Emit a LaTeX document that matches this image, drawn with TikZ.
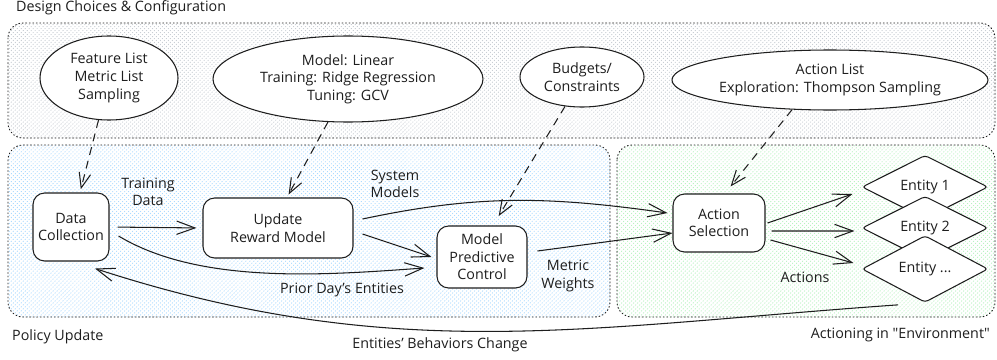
\documentclass[tikz,border=0pt]{standalone}
\usepackage{fontspec}
\setmainfont{Open Sans}
\usetikzlibrary{arrows.meta,shapes.geometric,patterns.meta}

\definecolor{ink}{HTML}{1E1E1E}
\definecolor{hatchgray}{HTML}{C4CAD0}
\definecolor{hatchblue}{HTML}{A5D8FF}
\definecolor{hatchgreen}{HTML}{B2F2BB}

\begin{document}
\begin{tikzpicture}[x=0.3mm,y=-0.3mm,font=\fontsize{12.2}{15}\selectfont,text=ink]
            \tikzset{line/.style={line width=0.9pt, draw=ink}};
            \tikzset{group/.style={rounded corners=4.5mm, draw=ink, line width=0.8pt, dash pattern=on 0.8pt off 2.2pt, line cap=round}};
            \tikzset{hatch/.style={pattern={Lines[angle=45,distance=2.4pt,line width=0.6pt]}, pattern color=#1}};
            \tikzset{proc/.style={line, rounded corners=3.5mm, fill=white, align=center, inner sep=2pt}};
            \tikzset{idea/.style={line, ellipse, fill=white, align=center, inner sep=0pt}};
            \tikzset{ent/.style={line, diamond, fill=white, minimum width=37.8mm, minimum height=18.6mm, inner sep=0pt, rounded corners=1mm}};
            \tikzset{arr/.style={line, -{Straight Barb[length=5.5mm,width=4mm,line width=0.9pt]}}};
            \tikzset{cfgarrow/.style={line, dash pattern=on 2.4mm off 1.8mm, -{Straight Barb[length=4.5mm,width=3.5mm,line width=0.9pt]}}};
            \tikzset{lbl/.style={align=center, inner sep=0pt}};

            \fill[white] (0,0) rectangle (997,360);
            \useasboundingbox (0,0) rectangle (997,360);

            \draw[group, hatch=hatchgray] (8,23) rectangle (995,138);
            \draw[group, hatch=hatchblue] (8,145) rectangle (610,317);
            \draw[group, hatch=hatchgreen] (617,145) rectangle (995,317);

            \node[lbl, anchor=west] (design) at (16,8) {Design Choices \& Configuration};
            \node[lbl, anchor=west] (policy) at (12,337) {Policy Update};
            \node[lbl, anchor=east] (envir) at (990,335) {Actioning in \textquotedbl Environment\textquotedbl};
            \node[lbl] (behave) at (440,345) {Entities' Behaviors Change};

            \node[idea, minimum width=41.4mm, minimum height=25.2mm] (feat) at (109,78) {Feature List\\Metric List\\Sampling};
            \node[idea, minimum width=81mm, minimum height=25.8mm] (model) at (348,79) {Model: Linear\\Training: Ridge Regression\\Tuning: GCV};
            \node[idea, minimum width=37.2mm, minimum height=18mm] (budget) at (582,77) {Budgets/\\Constraints};
            \node[idea, minimum width=94.8mm, minimum height=18mm] (alist) at (830,80) {Action List\\Exploration: Thompson Sampling};

            \node[proc, minimum width=22.8mm, minimum height=20.4mm] (dc) at (71,227) {Data\\Collection};
            \node[proc, minimum width=45mm, minimum height=18mm] (upd) at (278,228) {Update\\Reward Model};
            \node[proc, minimum width=27mm, minimum height=18.6mm] (mpc) at (482,257) {Model\\Predictive\\Control};
            \node[proc, minimum width=27.6mm, minimum height=17.4mm] (act) at (719,223) {Action\\Selection};

            \node[ent] (e1) at (925,187) {Entity 1};
            \node[ent] (e2) at (925,228) {Entity 2};
            \node[ent] (e3) at (925,269) {Entity ...};

            \draw[cfgarrow, shorten >=1mm] (feat.256) -- ([xshift=2.7mm]dc.north);
            \draw[cfgarrow, shorten >=1mm] (model.245) -- ([xshift=2.7mm]upd.north);
            \draw[cfgarrow, shorten >=3.3mm] (budget.240) -- ([xshift=3.3mm]mpc.north);
            \draw[cfgarrow, shorten >=2.7mm] (alist.218) -- ([xshift=1.8mm]act.north);

            \draw[arr, shorten <=2.4mm, shorten >=1.8mm] (dc.east) -- (upd.west);
            \draw[arr] ([xshift=2.7mm,yshift=-2.7mm]dc.east) to[out=-31,in=184,looseness=0.8] ([xshift=-3.6mm,yshift=-3.3mm]mpc.west);
            \draw[arr] ([xshift=2.7mm,yshift=-1.8mm]upd.east) -- ([xshift=-1.5mm]mpc.west);
            \draw[arr] ([xshift=2.7mm,yshift=2.7mm]upd.east) to[out=12,in=172] ([xshift=-1.5mm,yshift=3mm]act.west);
            \draw[arr] ([xshift=3mm,yshift=1.8mm]mpc.east) -- ([yshift=-3mm]act.west);

            \draw[arr] ([xshift=0.6mm]act.east) -- ([xshift=-2.7mm,yshift=-2.1mm]e1.west);
            \draw[arr] ([xshift=1.8mm,yshift=-2.4mm]act.east) -- ([xshift=-2.1mm,yshift=-0.9mm]e2.west);
            \draw[arr] ([xshift=1.5mm,yshift=-5.1mm]act.east) -- ([xshift=-2.4mm,yshift=1.8mm]e3.west);

            \draw[arr] ([xshift=-8.1mm,yshift=-0.6mm]e3.south) to[out=184,in=-18] ([xshift=7.2mm,yshift=-2.1mm]dc.south);

            \node[lbl] (ltrain) at (148,192) {Training\\Data};
            \node[lbl] (lsys) at (395,184) {System\\Models};
            \node[lbl] (lprior) at (342,290) {Prior Day's Entities};
            \node[lbl] (lmetric) at (568,276) {Metric\\Weights};
            \node[lbl] (lact) at (805,277) {Actions};
        \end{tikzpicture}
\end{document}
